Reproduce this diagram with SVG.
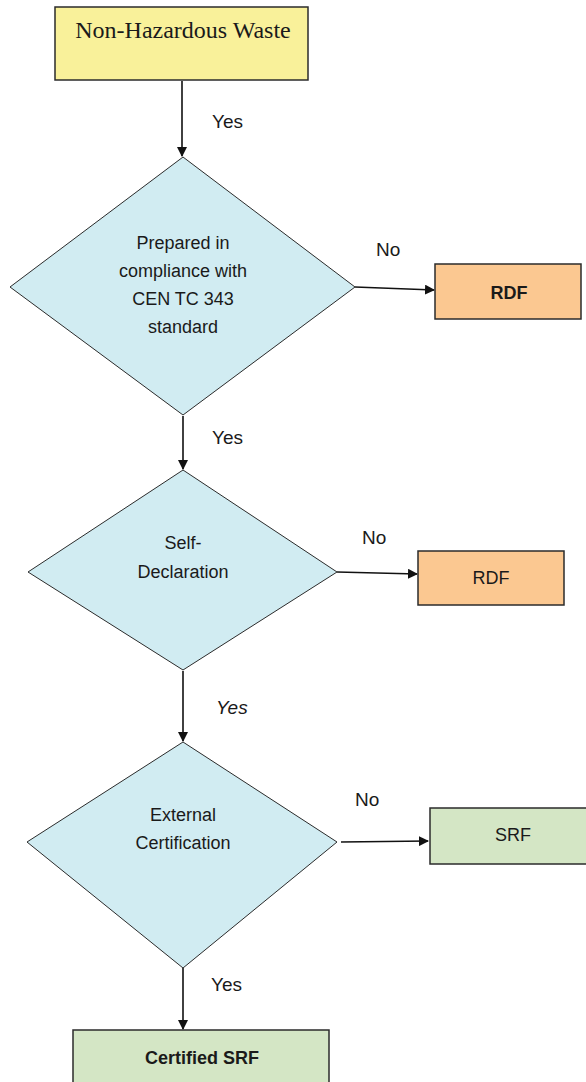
<svg xmlns="http://www.w3.org/2000/svg" width="586" height="1082" viewBox="0 0 586 1082">
<style>
.box{stroke:#2b2b2b;stroke-width:1.5}
.dia{fill:#d1ecf2;stroke:#2b2b2b;stroke-width:1}
.t{font-family:"Liberation Sans",Arial,sans-serif;font-size:18px;fill:#1a1a1a;text-anchor:middle}
.lbl{font-family:"Liberation Sans",Arial,sans-serif;font-size:19px;fill:#1a1a1a}
.c{stroke:#111;stroke-width:1.6;fill:none;marker-end:url(#ah)}
</style>
<defs>
<marker id="ah" markerWidth="10" markerHeight="10" refX="9" refY="5" orient="auto" markerUnits="userSpaceOnUse">
<path d="M0,0 L10,5 L0,10 Z" fill="#111"/>
</marker>
</defs>
<rect width="586" height="1082" fill="#ffffff"/>
<g id="connectors">
<line class="c" x1="182" y1="81" x2="182" y2="156"/>
<line class="c" x1="355" y1="287" x2="434" y2="290"/>
<line class="c" x1="183" y1="416" x2="183" y2="469"/>
<line class="c" x1="337" y1="572" x2="417" y2="574"/>
<line class="c" x1="183" y1="671" x2="183" y2="741"/>
<line class="c" x1="341" y1="842" x2="428" y2="841"/>
<line class="c" x1="183" y1="968" x2="183" y2="1029"/>
<text class="lbl" x="212" y="128">Yes</text>
<text class="lbl" x="376" y="256">No</text>
<text class="lbl" x="212" y="444">Yes</text>
<text class="lbl" x="362" y="544">No</text>
<text class="lbl" x="216" y="714" font-style="italic">Yes</text>
<text class="lbl" x="355" y="806">No</text>
<text class="lbl" x="211" y="991">Yes</text>
</g>
<g id="n-waste">
<rect class="box" x="55" y="7" width="253" height="73" fill="#f9f19a" stroke-width="2"/>
<text x="183" y="38" font-family="Liberation Serif,'Times New Roman',serif" font-size="24" fill="#1a1a1a" text-anchor="middle">Non-Hazardous Waste</text>
</g>
<g id="d-cen">
<polygon class="dia" points="183,157 355,287 183,415 10,287"/>
<text class="t" x="183" y="249">Prepared in</text>
<text class="t" x="183" y="277">compliance with</text>
<text class="t" x="183" y="305">CEN TC 343</text>
<text class="t" x="183" y="333">standard</text>
</g>
<g id="n-rdf1">
<rect class="box" x="435" y="264" width="146" height="55" fill="#fbc891"/>
<text class="t" x="509" y="299" font-weight="bold" font-size="19">RDF</text>
</g>
<g id="d-self">
<polygon class="dia" points="183,470 337,572 183,670 28,572"/>
<text class="t" x="183" y="549">Self-</text>
<text class="t" x="183" y="578">Declaration</text>
</g>
<g id="n-rdf2">
<rect class="box" x="418" y="551" width="146" height="54" fill="#fbc891"/>
<text class="t" x="491" y="584">RDF</text>
</g>
<g id="d-ext">
<polygon class="dia" points="183,742 337,842 183,968 27,842"/>
<text class="t" x="183" y="821">External</text>
<text class="t" x="183" y="849">Certification</text>
</g>
<g id="n-srf">
<rect class="box" x="430" y="808" width="162" height="56" fill="#d4e6c5"/>
<text class="t" x="513" y="841">SRF</text>
</g>
<g id="n-csrf">
<rect class="box" x="73" y="1030" width="256" height="60" fill="#d4e6c5"/>
<text class="t" x="202" y="1064" font-weight="bold" font-size="19">Certified SRF</text>
</g>
</svg>
